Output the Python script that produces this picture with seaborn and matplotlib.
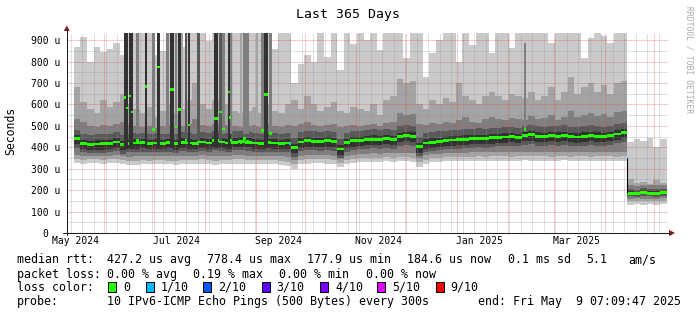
import matplotlib
matplotlib.use("Agg")
import numpy as np
import pandas as pd
import matplotlib.pyplot as plt
import matplotlib.dates as mdates
import matplotlib.transforms as mtrans
from matplotlib.lines import Line2D
from matplotlib.patches import Rectangle, Polygon
from matplotlib.ticker import MultipleLocator
import seaborn as sns

# ---------------- data ----------------
title = "Last 365 Days"
graph_start = "2024-05-09 07:09:47"
graph_end = "2025-05-09 07:09:47"
bin_first = "2024-05-13 17:00"
bin_days = 4

median = [440, 418, 414, 415, 416, 418, 425, 412, 418, 420,
          422, 418, 420, 418, 422, 416, 424, 420, 418, 425,
          420, 430, 425, 420, 424, 426, 424, 420, 418, 422,
          420, 418, 420, 398, 425, 430, 428, 426, 430, 426,
          392, 422, 430, 432, 436, 438, 436, 440, 436, 450,
          455, 452, 402, 420, 424, 428, 432, 434, 436, 438,
          440, 442, 440, 444, 446, 448, 450, 446, 454, 458,
          452, 450, 454, 452, 456, 450, 448, 452, 456, 452,
          450, 455, 462, 468, 186, 184, 190, 186, 185, 188]

p01 = [326, 324, 325, 326, 324, 325, 326, 324, 316, 318,
       322, 320, 322, 324, 320, 318, 320, 322, 322, 324,
       322, 318, 320, 322, 324, 324, 322, 320, 322, 320,
       322, 318, 312, 300, 322, 324, 326, 325, 324, 322,
       306, 322, 328, 330, 332, 333, 332, 334, 333, 335,
       334, 332, 310, 322, 330, 332, 334, 335, 336, 336,
       336, 337, 336, 338, 337, 338, 336, 338, 339, 338,
       337, 338, 336, 338, 339, 336, 338, 337, 336, 338,
       337, 338, 336, 338, 132, 134, 131, 133, 132, 134]

p02 = [344, 342, 343, 344, 342, 343, 344, 342, 336, 338,
       340, 338, 340, 342, 338, 337, 339, 341, 341, 343,
       341, 338, 339, 341, 343, 343, 341, 339, 341, 339,
       341, 337, 332, 320, 340, 343, 345, 344, 343, 341,
       325, 341, 347, 349, 351, 352, 351, 353, 352, 355,
       354, 352, 330, 342, 349, 351, 353, 354, 355, 356,
       356, 357, 356, 358, 357, 358, 356, 358, 359, 358,
       357, 358, 356, 358, 359, 356, 358, 357, 356, 358,
       357, 358, 356, 358, 148, 149, 147, 148, 148, 149]

p03 = [364, 361, 360, 361, 360, 361, 363, 360, 356, 358,
       360, 358, 360, 361, 358, 357, 359, 361, 360, 362,
       361, 360, 360, 361, 363, 363, 361, 359, 360, 360,
       361, 358, 354, 340, 360, 363, 365, 364, 363, 361,
       343, 361, 366, 368, 370, 371, 370, 372, 371, 375,
       375, 373, 350, 362, 368, 370, 372, 373, 374, 375,
       376, 377, 376, 378, 377, 378, 377, 378, 380, 379,
       378, 379, 377, 379, 380, 377, 378, 378, 377, 379,
       378, 379, 378, 380, 160, 161, 159, 160, 160, 161]

p04 = [398, 376, 372, 373, 374, 376, 383, 370, 376, 378,
       380, 376, 378, 376, 380, 374, 382, 378, 376, 383,
       378, 388, 383, 378, 386, 388, 384, 378, 376, 380,
       378, 376, 378, 356, 383, 388, 386, 384, 388, 384,
       350, 380, 388, 390, 394, 396, 394, 398, 394, 406,
       410, 408, 360, 378, 382, 386, 390, 392, 394, 396,
       398, 400, 398, 402, 404, 406, 408, 404, 410, 414,
       408, 406, 410, 408, 412, 406, 404, 408, 412, 408,
       406, 411, 418, 424, 171, 169, 173, 171, 170, 172]

p05 = [413, 391, 387, 388, 389, 391, 398, 385, 391, 393,
       395, 391, 393, 391, 395, 389, 397, 393, 391, 398,
       393, 403, 398, 393, 401, 403, 399, 393, 391, 395,
       393, 391, 393, 371, 398, 403, 401, 399, 403, 399,
       365, 395, 403, 405, 409, 411, 409, 413, 409, 423,
       428, 425, 375, 393, 397, 401, 405, 407, 409, 411,
       413, 415, 413, 417, 419, 421, 423, 419, 427, 431,
       425, 423, 427, 425, 429, 423, 421, 425, 429, 425,
       423, 428, 435, 441, 179, 177, 182, 179, 178, 180]

p06 = [457, 435, 431, 432, 433, 435, 442, 429, 435, 437,
       439, 435, 437, 435, 439, 433, 441, 437, 435, 442,
       437, 447, 442, 437, 445, 447, 443, 437, 435, 439,
       437, 435, 437, 415, 442, 447, 445, 443, 447, 443,
       409, 439, 447, 449, 453, 455, 453, 457, 453, 467,
       472, 469, 419, 437, 441, 445, 449, 451, 453, 455,
       457, 459, 457, 461, 463, 465, 467, 463, 471, 475,
       469, 467, 471, 469, 473, 467, 465, 469, 473, 469,
       467, 472, 479, 485, 196, 193, 199, 195, 194, 197]

p07 = [480, 462, 458, 460, 462, 463, 470, 458, 464, 466,
       468, 463, 466, 463, 468, 461, 470, 466, 464, 472,
       466, 476, 471, 466, 474, 476, 472, 466, 463, 468,
       466, 463, 466, 445, 471, 476, 474, 472, 476, 472,
       440, 468, 476, 478, 482, 484, 482, 486, 482, 498,
       502, 500, 450, 466, 470, 474, 478, 480, 482, 484,
       486, 488, 486, 490, 492, 494, 496, 492, 500, 505,
       498, 496, 500, 498, 502, 496, 494, 498, 502, 498,
       496, 501, 508, 514, 205, 202, 208, 204, 203, 206]

p08 = [530, 520, 500, 495, 505, 500, 510, 520, 505, 500,
       495, 500, 490, 500, 505, 495, 500, 510, 530, 505,
       500, 510, 515, 505, 500, 495, 500, 505, 495, 510,
       500, 495, 505, 500, 510, 520, 505, 500, 505, 510,
       495, 500, 505, 500, 505, 510, 500, 515, 520, 560,
       550, 555, 510, 505, 515, 510, 520, 515, 525, 540,
       520, 515, 530, 540, 530, 525, 535, 530, 525, 545,
       530, 535, 550, 525, 540, 570, 540, 550, 560, 545,
       555, 540, 565, 570, 224, 220, 226, 222, 225, 222]

p09 = [680, 610, 580, 560, 620, 590, 610, 650, 600, 580,
       560, 590, 540, 570, 600, 560, 580, 620, 700, 600,
       580, 620, 620, 600, 570, 560, 570, 590, 560, 600,
       570, 560, 600, 620, 580, 640, 600, 570, 590, 610,
       570, 560, 590, 580, 570, 600, 550, 620, 640, 720,
       700, 710, 600, 580, 620, 600, 630, 610, 700, 640,
       620, 600, 640, 660, 640, 620, 650, 640, 630, 660,
       620, 640, 680, 620, 660, 730, 650, 680, 700, 660,
       690, 650, 700, 710, 250, 235, 240, 230, 245, 235]

p10 = [870, 915, 800, 870, 845, 860, 885, 830, 950, 950,
       950, 950, 830, 850, 950, 950, 870, 950, 950, 950,
       895, 950, 950, 950, 950, 950, 950, 950, 950, 950,
       860, 950, 950, 700, 790, 830, 800, 950, 820, 950,
       760, 950, 880, 950, 900, 950, 855, 950, 950, 950,
       815, 950, 950, 730, 840, 900, 950, 950, 800, 950,
       878, 950, 950, 842, 950, 950, 863, 950, 950, 950,
       950, 950, 886, 950, 950, 950, 950, 816, 910, 950,
       920, 886, 950, 950, 425, 440, 430, 445, 400, 440]

# short high-latency episodes (narrow columns); level 0=darkest .. 3=lightest smoke
spike_dates = ["2024-06-13 16:00", "2024-06-14 21:00", "2024-06-17 02:00", "2024-06-18 07:00",
               "2024-06-21 07:00", "2024-06-26 14:00", "2024-07-01 00:00", "2024-07-04 09:00",
               "2024-07-09 12:00", "2024-07-12 10:00", "2024-07-14 14:00", "2024-07-17 00:00",
               "2024-07-18 14:00", "2024-07-21 02:00", "2024-07-22 14:00", "2024-07-28 10:00",
               "2024-08-08 07:00", "2024-08-10 17:00", "2024-08-12 19:00", "2024-08-15 17:00",
               "2024-08-16 17:00", "2024-08-17 10:00", "2024-08-23 10:00", "2024-08-25 07:00",
               "2024-08-27 07:00", "2024-09-02 02:00", "2024-09-05 05:00", "2024-09-07 10:00",
               "2024-09-10 00:00", "2025-02-12 00:00"]
spike_days = [1.2, 1.2, 1.2, 1.2, 1.8, 1.6, 1.8, 2.0,
              1.5, 2.0, 1.2, 2.0, 1.5, 1.2, 1.0, 1.5,
              2.4, 1.5, 1.8, 1.2, 1.2, 1.2, 1.5, 1.8,
              1.5, 1.5, 1.8, 2.0, 1.8, 1.2]
spike_median = [633, 583, 639, 564, 430, 682, 482, 774,
                420, 670, 494, 577, 424, 430, 504, 425,
                533, 564, 485, 658, 539, 430, 424, 440,
                426, 420, 477, 647, 465, 482]
spike_level = [0, 0, 0, 0, 2, 0, 2, 0,
               2, 0, 2, 0, 3, 1, 0, 1,
               0, 1, 2, 0, 0, 2, 3, 2,
               2, 3, 2, 0, 2, 2]
spike_low = [395, 395, 395, 395, 460, 395, 460, 395,
             460, 395, 460, 395, 500, 430, 395, 430,
             395, 430, 460, 395, 395, 460, 500, 460,
             460, 500, 460, 395, 460, 480]
spike_high = [950] * 29 + [886]

loss_dates = ["2024-09-22 00:00", "2025-04-14 17:00"]
loss_values = [414, 350]
drop_date = "2025-04-14 17:00"
drop_from, drop_to = 350, 186

y_ticks = [0, 100, 200, 300, 400, 500, 600, 700, 800, 900]
y_labels = ["0", "100 u", "200 u", "300 u", "400 u", "500 u", "600 u", "700 u", "800 u", "900 u"]
x_labels = ["May 2024", "Jul 2024", "Sep 2024", "Nov 2024", "Jan 2025", "Mar 2025"]
x_label_months = ["2024-05-01", "2024-07-01", "2024-09-01", "2024-11-01", "2025-01-01", "2025-03-01"]

loss_names = ["0", "1/10", "2/10", "3/10", "4/10", "5/10", "9/10"]
loss_colors = ["#26ff00", "#00b8ff", "#0059ff", "#5e00ff", "#7e00ff", "#dd00ff", "#ff0000"]

# ---------------- drawing ----------------
sns.set_theme(style="white")
plt.rcParams["font.family"] = ["DejaVu Sans Mono", "DejaVu Sans"]

W, H = 697, 315
fig = plt.figure(figsize=(W / 100, H / 100), dpi=100, facecolor="white")
PL, PR, PT, PB = 66.5, 667.6, 33.0, 233.0
ax = fig.add_axes([PL / W, 1 - PB / H, (PR - PL) / W, (PB - PT) / H])
ax.set_facecolor("white")
for s in ax.spines.values():
    s.set_visible(False)

t0 = mdates.date2num(pd.Timestamp(graph_start))
t1 = mdates.date2num(pd.Timestamp(graph_end))
YMAX = 933
ax.set_xlim(t0, t1)
ax.set_ylim(0, YMAX)

bins = mdates.date2num(pd.date_range(bin_first, periods=len(median), freq=f"{bin_days}D"))
pings = [p01, p02, p03, p04, p05, p06, p07, p08, p09, p10]
shades = ["#cacaca", "#a4a4a4", "#7e7e7e", "#585858", "#323232"]
for i, c in enumerate(shades):
    lo = np.array(pings[i], float)
    hi = np.array(pings[9 - i], float)
    ax.bar(bins, hi - lo, bottom=lo, width=bin_days, align="edge", color=c,
           linewidth=0, antialiased=False, zorder=1 + 0.1 * i)

# grid (rrdtool style: fine dotted lines over the smoke)
dots = (0, (1, 1))
minor_c = [(0.56, 0.56, 0.56, 0.55)]
major_c = [(0.90, 0.25, 0.25, 0.55)]
week_lines = mdates.date2num(pd.date_range(graph_start, graph_end, freq="W-SUN").normalize())
month_lines = mdates.date2num(pd.date_range(graph_start, graph_end, freq="MS"))
for coll in (
    ax.vlines(week_lines, 0, YMAX, colors=minor_c, linewidth=0.72, linestyles=[dots], zorder=2.4),
    ax.hlines(np.arange(50, YMAX, 100), t0, t1, colors=minor_c, linewidth=0.72, linestyles=[dots], zorder=2.4),
    ax.vlines(month_lines, 0, YMAX, colors=major_c, linewidth=0.72, linestyles=[dots], zorder=2.5),
    ax.hlines(np.arange(100, YMAX, 100), t0, t1, colors=major_c, linewidth=0.72, linestyles=[dots], zorder=2.5),
):
    coll.set_snap(True)

# median
mh = 13
ax.bar(bins, mh, bottom=np.array(median) - mh / 2, width=bin_days, align="edge",
       color=loss_colors[0], linewidth=0, antialiased=False, zorder=3)

# spikes
sx = mdates.date2num(pd.to_datetime(spike_dates))
spike_cols = [shades[4], shades[3], shades[2], shades[1]]
ax.bar(sx, np.array(spike_high) - np.array(spike_low), bottom=spike_low, width=spike_days,
       align="center", color=[spike_cols[l] for l in spike_level], linewidth=0,
       antialiased=False, zorder=3.05)
ax.bar(sx, mh, bottom=np.array(spike_median) - mh / 2, width=spike_days, align="center",
       color=loss_colors[0], linewidth=0, antialiased=False, zorder=3.1)

# level drop + loss markers
dx = mdates.date2num(pd.Timestamp(drop_date))
ax.vlines(dx, drop_to, drop_from, color="black", lw=0.8, zorder=3.2)
lx = mdates.date2num(pd.to_datetime(loss_dates))
ax.bar(lx, 8, bottom=np.array(loss_values) - 4, width=0.7, color=loss_colors[1],
       linewidth=0, antialiased=False, zorder=3.3)

# ticks
ax.xaxis.set_major_locator(mdates.MonthLocator())
ax.yaxis.set_major_locator(MultipleLocator(100))
ax.grid(False)
ax.tick_params(which="major", direction="out", length=2, width=0.7, color="#1f1f1f",
               labelbottom=False, labelleft=False)
ax.tick_params(which="minor", length=0)

# axis lines and arrows
axc = "#1f1f1f"
fig.add_artist(Line2D([66.8 / W] * 2, [1 - 235 / H, 1 - 29 / H], color=axc, lw=0.75))
fig.add_artist(Line2D([63 / W, 670 / W], [1 - 233 / H] * 2, color=axc, lw=0.75))
arrow_c = "#8a1c1c"
fig.add_artist(Polygon([(63.8 / W, 1 - 31 / H), (69.8 / W, 1 - 31 / H), (66.8 / W, 1 - 25.5 / H)],
                       closed=True, color=arrow_c, lw=0))
fig.add_artist(Polygon([(669 / W, 1 - 229.8 / H), (669 / W, 1 - 236.2 / H), (675 / W, 1 - 233 / H)],
                       closed=True, color=arrow_c, lw=0))

# tick labels
fs_axis = 7.05
ytrans = mtrans.blended_transform_factory(fig.transFigure, ax.transData) + \
    mtrans.ScaledTranslation(0, -4 / 100, fig.dpi_scale_trans)
for v, s in zip(y_ticks, y_labels):
    xr = 60 if v else 48.3
    ax.text(xr / W, v, s, transform=ytrans, ha="right", va="baseline", fontsize=fs_axis, color="black")
xtrans = mtrans.blended_transform_factory(ax.transData, fig.transFigure)
for m, s in zip(x_label_months, x_labels):
    xd = mdates.date2num(pd.Timestamp(m) + pd.Timedelta(days=14))
    ax.text(xd, 1 - 244 / H, s, transform=xtrans, ha="center", va="baseline", fontsize=fs_axis, color="black")

# title and labels
fig.text(348 / W, 1 - 18 / H, title, ha="center", va="baseline", fontsize=9.5, color="black")
fig.text(11 / W, 1 - 131 / H, "Seconds", rotation=90, ha="center", va="center", fontsize=8.3, color="black")
fig.text(688.5 / W, 1 - 60 / H, "RRDTOOL / TOBI OETIKER", rotation=270, ha="center", va="center",
         fontsize=5.8, color="#a8a8a8")

# legend
fs_leg = 8.35
def lt(x, y, s):
    fig.text(x / W, 1 - y / H, s, ha="left", va="baseline", fontsize=fs_leg, color="black")

row1 = [(17, "median rtt:"), (107.3, "427.2 us avg"), (207.3, "778.4 us max"), (306.7, "177.9 us min"),
        (407.3, "184.6 us now"), (507.7, "0.1 ms sd"), (586.7, "5.1"), (628.3, "am/s")]
row2 = [(17, "packet loss:"), (107.3, "0.00 % avg"), (193.3, "0.19 % max"), (279.3, "0.00 % min"),
        (365.7, "0.00 % now")]
row4 = [(17, "probe:"), (107.3, "10 IPv6-ICMP Echo Pings (500 Bytes) every 300s"),
        (478.3, "end: Fri May  9 07:09:47 2025")]
for x, s in row1:
    lt(x, 263.3, s)
for x, s in row2:
    lt(x, 277.6, s)
for x, s in row4:
    lt(x, 305.4, s)
lt(17, 291, "loss color:")
box_x = [108.3, 145.7, 203.3, 261.7, 320, 377.3, 435.7]
for bx, name, col in zip(box_x, loss_names, loss_colors):
    fig.add_artist(Rectangle((bx / W, 1 - 291.5 / H), 8 / W, 10 / H, facecolor=col,
                             edgecolor="black", lw=0.72))
    lt(bx + 15, 291, name)

fig.savefig("out.png", dpi=100, facecolor="white")
